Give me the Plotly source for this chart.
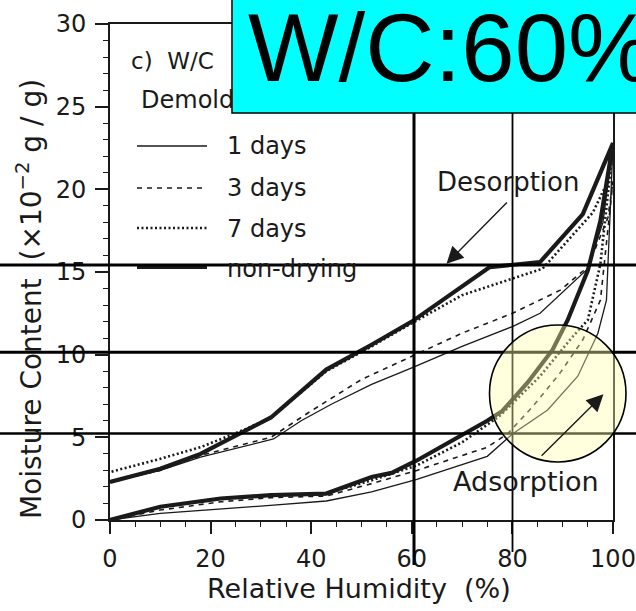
import plotly.graph_objects as go

# ---------------- data ----------------
series_names = ["1 days", "3 days", "7 days", "non-drying"]

# adsorption / desorption branches (RH %, moisture content x10^-2 g/g)
ads_rh_1d = [0, 10, 32.5, 43, 52, 61, 75, 80, 87, 93, 97, 98.7, 100]
ads_mc_1d = [0, 0.4, 0.9, 1.15, 1.7, 2.45, 3.85, 5.2, 6.65, 8.7, 11.3, 13.3, 22.7]
des_rh_1d = [100, 98, 95, 85.5, 80, 70, 60, 52, 44, 38, 32.5, 18, 10, 0]
des_mc_1d = [22.7, 18.0, 15.2, 12.5, 11.7, 10.5, 9.2, 8.2, 7.0, 6.0, 4.9, 3.8, 3.0, 2.3]

ads_rh_3d = [0, 10, 22, 32, 43, 52, 61, 75, 79, 84, 89.5, 94, 97.5, 100]
ads_mc_3d = [0, 0.6, 1.1, 1.35, 1.45, 2.2, 3.0, 4.4, 5.2, 6.85, 8.9, 10.9, 13.3, 20.5]
des_rh_3d = [100, 99, 95, 89.5, 80, 70, 60, 50, 40, 32, 18, 10, 0]
des_mc_3d = [20.5, 18.3, 15.3, 13.9, 12.5, 11.3, 9.9, 8.5, 6.6, 5.0, 3.9, 3.0, 2.3]

ads_rh_7d = [0, 10, 22, 32, 43, 52, 61, 70, 77.5, 85.5, 92, 95, 97.5, 100]
ads_mc_7d = [0, 0.8, 1.3, 1.5, 1.6, 2.4, 3.3, 4.7, 6.3, 8.7, 11.1, 12.1, 15.5, 22.6]
des_rh_7d = [100, 99, 96, 91, 86, 80, 70, 60, 52, 43, 32, 27, 18, 10, 0]
des_mc_7d = [22.6, 20.5, 18.6, 16.9, 15.2, 14.6, 13.6, 11.9, 10.5, 9.0, 6.2, 5.5, 4.4, 3.7, 2.9]

ads_rh_nd = [0, 10, 22, 32, 43, 52, 56, 61, 75, 78, 83, 88, 91, 95, 97.5, 100]
ads_mc_nd = [0, 0.8, 1.3, 1.5, 1.6, 2.6, 2.85, 3.6, 6.0, 6.6, 8.3, 10.3, 12.1, 15.1, 18.1, 22.8]
des_rh_nd = [100, 94, 85.5, 75.5, 60, 52, 43, 32, 18, 10, 0]
des_mc_nd = [22.8, 18.5, 15.6, 15.3, 12.0, 10.6, 9.1, 6.2, 4.0, 3.1, 2.3]

x_ticks = [0, 20, 40, 60, 80, 100]
y_ticks = [0, 5, 10, 15, 20, 25, 30]

# ---------------- geometry helpers (layout only) ----------------
W, H = 636, 611
L, R, T, B = 110, 613, 24, 520


def px(xp):
    return (xp - L) / (R - L)


def py(yp):
    return (B - yp) / (B - T)


FONT = "DejaVu Sans"
INK = "#1a1a1a"

styles = [
    dict(width=1.3, dash="solid"),
    dict(width=1.6, dash="5px,5px"),
    dict(width=2.6, dash="2px,2.5px"),
    dict(width=4.2, dash="solid"),
]
ads = [(ads_rh_1d, ads_mc_1d), (ads_rh_3d, ads_mc_3d), (ads_rh_7d, ads_mc_7d), (ads_rh_nd, ads_mc_nd)]
des = [(des_rh_1d, des_mc_1d), (des_rh_3d, des_mc_3d), (des_rh_7d, des_mc_7d), (des_rh_nd, des_mc_nd)]

fig = go.Figure()
for name, st, (ax_, ay_), (dx_, dy_) in zip(series_names, styles, ads, des):
    fig.add_trace(go.Scatter(
        x=list(ax_) + list(dx_), y=list(ay_) + list(dy_), mode="lines", name=name,
        line=dict(color=INK, width=st["width"], dash=st["dash"]),
        showlegend=False, hoverinfo="skip"))

shapes = []
annotations = []

# manual legend
leg_line_y = [146, 188, 228, 267]
leg_text_y = [146, 188, 228.5, 269]
for name, st, ly, ty in zip(series_names, styles, leg_line_y, leg_text_y):
    shapes.append(dict(type="line", xref="paper", yref="paper", x0=px(137), x1=px(207),
                       y0=py(ly), y1=py(ly), line=dict(color=INK, width=st["width"], dash=st["dash"])))
    annotations.append(dict(text=name, xref="paper", yref="paper", x=px(225), y=py(ty),
                            xanchor="left", yanchor="middle", showarrow=False,
                            font=dict(family=FONT, size=24, color=INK)))

annotations += [
    dict(text="c)  W/C", xref="paper", yref="paper", x=px(129), y=py(61), xanchor="left",
         yanchor="middle", showarrow=False, font=dict(family=FONT, size=23, color=INK)),
    dict(text="Demold", xref="paper", yref="paper", x=px(139), y=py(100), xanchor="left",
         yanchor="middle", showarrow=False, font=dict(family=FONT, size=24, color=INK)),
    dict(text="Desorption", x=79.1, y=20.45, xanchor="center", yanchor="middle", showarrow=False,
         font=dict(family=FONT, size=26, color=INK)),
    dict(text="Adsorption", x=82.8, y=2.3, xanchor="center", yanchor="middle", showarrow=False,
         font=dict(family=FONT, size=27, color=INK)),
    dict(text="", x=66.9, y=15.5, ax=79.2, ay=19.3, axref="x", ayref="y", showarrow=True,
         arrowhead=2, arrowsize=2.4, arrowwidth=1.4, arrowcolor=INK),
    dict(text="", x=98.1, y=7.6, ax=85.5, ay=3.8, axref="x", ayref="y", showarrow=True,
         arrowhead=2, arrowsize=2.4, arrowwidth=1.4, arrowcolor=INK),
    dict(text="Relative Humidity  (%)", xref="paper", yref="paper", x=px(359), y=py(588),
         xanchor="center", yanchor="middle", showarrow=False,
         font=dict(family=FONT, size=27, color=INK)),
    dict(text="Moisture Content  (×10<sup>−2</sup> g / g)", xref="paper", yref="paper",
         x=px(29), y=py(299), textangle=-90, xanchor="center", yanchor="middle", showarrow=False,
         font=dict(family=FONT, size=28, color=INK)),
]

# overlay marks (guide lines, highlight circle, label box)
shapes += [
    dict(type="line", xref="paper", yref="paper", x0=px(414), x1=px(414), y0=py(565), y1=py(0),
         line=dict(color="black", width=3), layer="above"),
    dict(type="line", xref="paper", yref="paper", x0=px(512.5), x1=px(512.5), y0=py(552), y1=py(0),
         line=dict(color="black", width=1.8), layer="above"),
    dict(type="line", xref="paper", yref="paper", x0=px(0), x1=px(W), y0=py(265), y1=py(265),
         line=dict(color="black", width=3), layer="above"),
    dict(type="line", xref="paper", yref="paper", x0=px(0), x1=px(W), y0=py(352.3), y1=py(352.3),
         line=dict(color="black", width=3), layer="above"),
    dict(type="line", xref="paper", yref="paper", x0=px(0), x1=px(W), y0=py(433.5), y1=py(433.5),
         line=dict(color="black", width=2.6), layer="above"),
    dict(type="circle", xref="paper", yref="paper", x0=px(489.5), x1=px(626), y0=py(462), y1=py(325),
         line=dict(color="black", width=1.6), fillcolor="rgba(255,255,170,0.4)", layer="above"),
    dict(type="rect", xref="paper", yref="paper", x0=px(232), x1=px(W + 5), y0=py(113), y1=py(-5),
         line=dict(color="black", width=1.5), fillcolor="#00ffff", layer="above"),
]

annotations.append(dict(text="W/C:60%", xref="paper", yref="paper", x=px(246), y=py(47),
                        xanchor="left", yanchor="middle", showarrow=False,
                        font=dict(family="Liberation Sans", size=96, color="black")))

axis_common = dict(showline=True, linecolor=INK, linewidth=2, mirror=True, showgrid=False,
                   zeroline=False, ticks="outside", tickcolor=INK, tickwidth=1.5,
                   ticklabelstandoff=4, automargin=False,
                   tickfont=dict(family=FONT, size=24, color=INK))

fig.update_layout(
    width=W, height=H, autosize=False,
    margin=dict(l=L, r=W - R, t=T, b=H - B, pad=0),
    paper_bgcolor="white", plot_bgcolor="white",
    xaxis=dict(range=[0, 100], tickvals=x_ticks, ticktext=[str(v) for v in x_ticks], ticklen=12,
               minor=dict(ticks="outside", dtick=5, ticklen=5, tickcolor=INK, tickwidth=1),
               **axis_common),
    yaxis=dict(range=[0, 30], tickvals=y_ticks, ticktext=[str(v) for v in y_ticks], ticklen=13,
               minor=dict(ticks="outside", dtick=1, ticklen=5, tickcolor=INK, tickwidth=1),
               **axis_common),
    shapes=shapes,
    annotations=annotations,
)

fig.write_html("out.html", config={"displayModeBar": False, "responsive": False},
               default_width="636px", default_height="611px",
               post_script="document.body.style.margin='0';document.body.style.overflow='hidden';")
